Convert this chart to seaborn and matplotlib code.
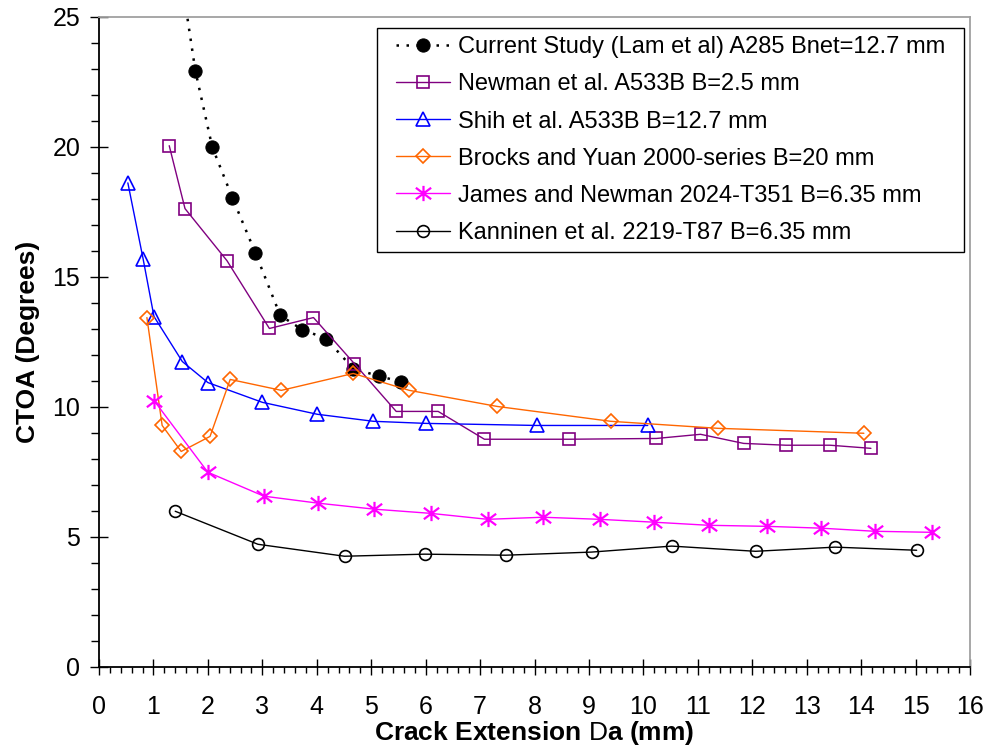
import numpy as np
import pandas as pd
import matplotlib
matplotlib.use("Agg")
import matplotlib.pyplot as plt
from matplotlib.path import Path
from matplotlib.patches import Rectangle
from matplotlib.ticker import MultipleLocator
import seaborn as sns

# ---------------- data ----------------
lam_x = [1.55, 1.77, 2.08, 2.45, 2.87, 3.33, 3.73, 4.17, 4.67, 5.15, 5.54]
lam_y = [26.0, 22.93, 20.0, 18.05, 15.94, 13.52, 12.98, 12.63, 11.48, 11.18, 10.98]

newman_x = [1.29, 1.58, 2.35, 3.13, 3.94, 4.69, 5.46, 6.23, 7.08, 8.64, 10.24, 11.05, 11.84, 12.62, 13.43, 14.18]
newman_y = [20.05, 17.63, 15.63, 13.02, 13.44, 11.67, 9.83, 9.83, 8.76, 8.76, 8.79, 8.95, 8.6, 8.53, 8.53, 8.41]

shih_x = [0.53, 0.81, 1.01, 1.53, 2.0, 3.0, 4.01, 5.04, 6.0, 8.04, 10.08]
shih_y = [18.62, 15.7, 13.48, 11.75, 10.94, 10.18, 9.72, 9.45, 9.37, 9.29, 9.29]

brocks_x = [0.88, 1.16, 1.51, 2.04, 2.41, 3.35, 4.67, 5.70, 7.32, 9.40, 11.37, 14.05]
brocks_y = [13.44, 9.29, 8.29, 8.87, 11.06, 10.64, 11.29, 10.64, 10.02, 9.45, 9.18, 8.99]

james_x = [1.01, 2.0, 3.03, 4.03, 5.06, 6.09, 7.14, 8.15, 9.20, 10.19, 11.2, 12.27, 13.26, 14.25, 15.30]
james_y = [10.25, 7.49, 6.57, 6.3, 6.07, 5.91, 5.68, 5.76, 5.68, 5.57, 5.45, 5.41, 5.34, 5.22, 5.18]

kann_x = [1.40, 2.92, 4.51, 5.98, 7.47, 9.05, 10.52, 12.06, 13.52, 15.02]
kann_y = [5.99, 4.72, 4.26, 4.34, 4.30, 4.42, 4.65, 4.45, 4.61, 4.49]

labels = [
    "Current Study (Lam et al) A285 Bnet=12.7 mm",
    "Newman et al. A533B B=2.5 mm",
    "Shih et al. A533B B=12.7 mm",
    "Brocks and Yuan 2000-series B=20 mm",
    "James and Newman 2024-T351 B=6.35 mm",
    "Kanninen et al. 2219-T87 B=6.35 mm",
]
x_ticks = list(range(0, 17))
y_ticks = [0, 5, 10, 15, 20, 25]

# ---------------- style ----------------
sns.set_style("ticks")
plt.rcParams["font.family"] = ["Liberation Sans", "DejaVu Sans"]
plt.rcParams["mathtext.fontset"] = "custom"
plt.rcParams["mathtext.rm"] = "Liberation Sans"
for k in ["text.color", "axes.labelcolor", "xtick.color", "ytick.color"]:
    plt.rcParams[k] = "black"

fig = plt.figure(figsize=(9.88, 7.49), dpi=100)
ax = fig.add_axes([99 / 988, 1 - 667 / 749, 871 / 988, 650 / 749])

star = Path([(-1, -0.75), (1, 0.75), (-1, 0.75), (1, -0.75), (0, -1), (0, 1)],
            [Path.MOVETO, Path.LINETO, Path.MOVETO, Path.LINETO, Path.MOVETO, Path.LINETO])

def draw(xs, ys, label, **kw):
    df = pd.DataFrame({"x": xs, "y": ys})
    sns.lineplot(data=df, x="x", y="y", ax=ax, sort=False, estimator=None,
                 label=label, **kw)

draw(lam_x, lam_y, labels[0], color="black", linestyle=(0, (1.0, 3.0)), linewidth=1.8,
     marker="o", markersize=9.5, markerfacecolor="black", markeredgecolor="black")
draw(newman_x, newman_y, labels[1], color="#800080", linewidth=1.0,
     marker="s", markersize=9, markerfacecolor="none", markeredgecolor="#800080",
     markeredgewidth=1.2)
draw(shih_x, shih_y, labels[2], color="#0000FF", linewidth=1.0,
     marker="^", markersize=9.5, markerfacecolor="none", markeredgecolor="#0000FF",
     markeredgewidth=1.2)
draw(brocks_x, brocks_y, labels[3], color="#FF6600", linewidth=1.0,
     marker="D", markersize=7, markerfacecolor="none", markeredgecolor="#FF6600",
     markeredgewidth=1.2)
draw(james_x, james_y, labels[4], color="#FF00FF", linewidth=1.0,
     marker=star, markersize=11, markerfacecolor="none", markeredgecolor="#FF00FF",
     markeredgewidth=1.6)
draw(kann_x, kann_y, labels[5], color="black", linewidth=1.0,
     marker="o", markersize=8.5, markerfacecolor="none", markeredgecolor="black",
     markeredgewidth=1.2)

ax.set_xlim(0, 16)
ax.set_ylim(0, 25)
ax.set_xticks(x_ticks)
ax.set_xticklabels([str(v) for v in x_ticks])
ax.set_yticks(y_ticks)
ax.set_yticklabels([str(v) for v in y_ticks])
ax.xaxis.set_minor_locator(MultipleLocator(0.2))
ax.yaxis.set_minor_locator(MultipleLocator(1))

ax.tick_params(axis="x", which="major", direction="inout", length=12, width=1,
               labelsize=18, pad=14, colors="black")
ax.tick_params(axis="x", which="minor", direction="out", length=4, width=1, colors="black")
ax.tick_params(axis="y", which="major", direction="inout", length=13, width=1,
               labelsize=18, pad=7, colors="black")
ax.tick_params(axis="y", which="minor", direction="out", length=6, width=1, colors="black")

for s in ["left", "bottom"]:
    ax.spines[s].set_color("black")
    ax.spines[s].set_linewidth(1.3)
for s in ["top", "right"]:
    ax.spines[s].set_visible(True)
    ax.spines[s].set_color("#A0A0A0")
    ax.spines[s].set_linewidth(1.3)

ax.set_xlabel(r"Crack Extension $\mathrm{D}$a (mm)", fontsize=19, fontweight="bold",
              labelpad=0, color="black")
ax.set_ylabel("CTOA (Degrees)", fontsize=19, fontweight="bold", labelpad=9, color="black")

leg = ax.legend(loc="upper right", bbox_to_anchor=(0.9805, 0.983), borderaxespad=0,
                fontsize=17, frameon=False,
                handlelength=2.3, handletextpad=0.3, labelspacing=0.64,
                borderpad=0.35)
for t in leg.get_texts():
    t.set_color("black")
leg.set_zorder(6)

# frame with wider horizontal padding than vertical, as in the reference
fig.canvas.draw()
bb = leg.get_window_extent(fig.canvas.get_renderer())
hpad = 11
W, H = fig.bbox.width, fig.bbox.height
rect = Rectangle(((bb.x0 - hpad) / W, bb.y0 / H), (bb.width + 2 * hpad) / W, bb.height / H,
                 transform=fig.transFigure, facecolor="white", edgecolor="black",
                 linewidth=1.0, zorder=5.5)
ax.add_artist(rect)

fig.savefig("out.png", dpi=100, facecolor="white")
